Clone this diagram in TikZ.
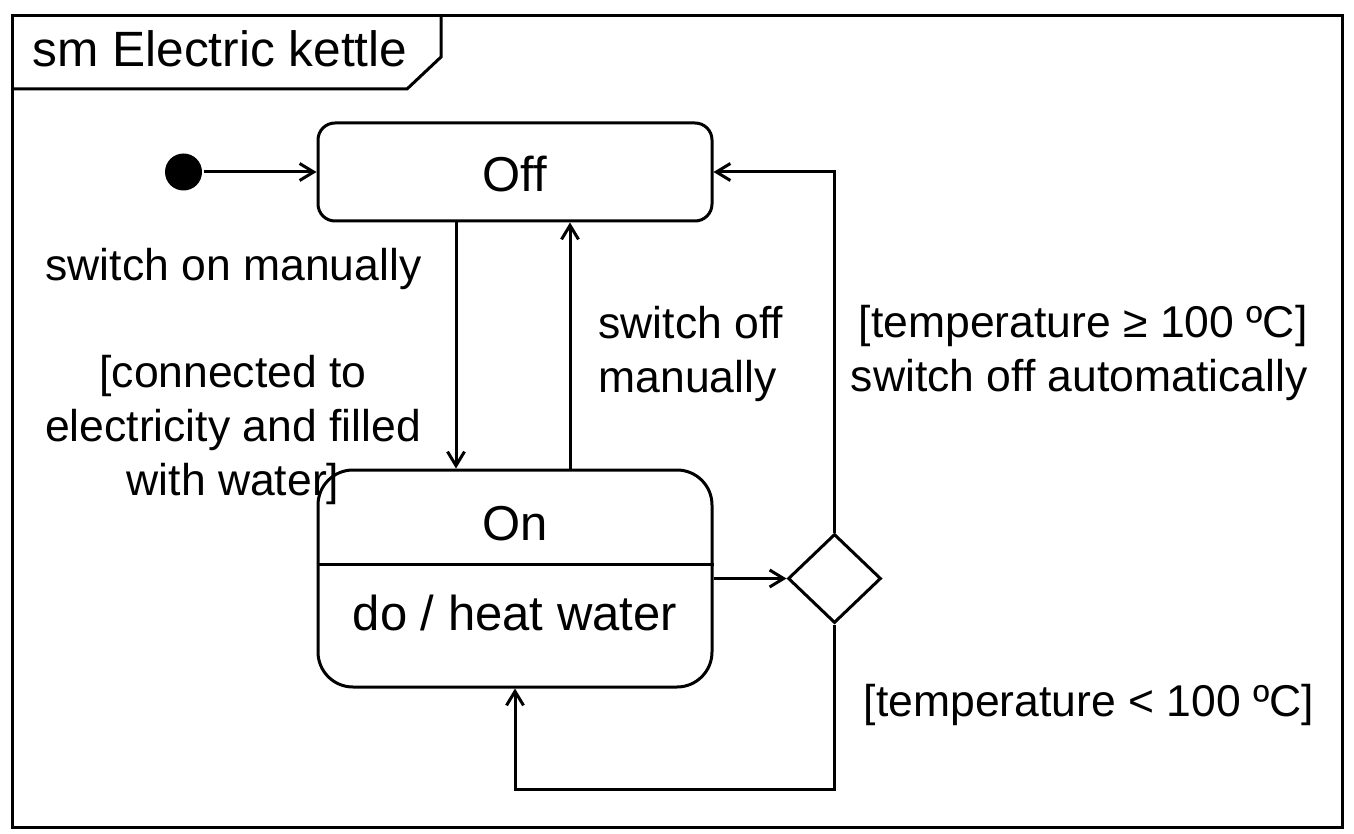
\documentclass[tikz,border=0pt]{standalone}
\usepackage{fontspec}
\setmainfont{Liberation Sans}
\usetikzlibrary{arrows.meta,shapes.geometric}
\begin{document}
\begin{tikzpicture}[x=0.5pt,y=-0.5pt,
  line width=1.5pt,
  arr/.style={-{Straight Barb[length=7pt,width=8.5pt]}},
  statebox/.style={draw,rectangle,inner sep=0pt,minimum width=197pt},
  lbl/.style={inner sep=0pt,font=\fontsize{22.25}{27}\selectfont},
  stxt/.style={inner sep=0pt,font=\fontsize{24.5}{29}\selectfont,anchor=base},
  decision/.style={draw,diamond,inner sep=0pt,aspect=1,minimum width=46.5pt,minimum height=44.5pt}]
\useasboundingbox (0,0) rectangle (1354,834);
% frame
\draw (12,16) rectangle (1342,827);
\draw (12,89) -- (407,89) -- (441,57) -- (441,16);
\node[inner sep=0pt,anchor=base west,font=\fontsize{24.8}{29}\selectfont] (title) at (31,67) {sm Electric kettle};
% nodes
\node[circle,fill,inner sep=0pt,minimum size=18.5pt] (init) at (183.5,172) {};
\node[statebox,minimum height=49pt,rounded corners=8.5pt] (off) at (515,172) {};
\node[stxt] (offtxt) at (515,192) {Off};
\node[statebox,minimum height=108.5pt,rounded corners=17.5pt] (on) at (515,578.5) {};
\draw (on.west |- 0,564.5) -- (on.east |- 0,564.5);
\node[stxt] (ontxt) at (515,540) {On};
\node[stxt] (dotxt) at (515,630) {do / heat water};
\node[decision] (dec) at (834.5,578.5) {};
% connectors
\draw[arr] (init) -- (off.west);
\draw[arr] (456,0 |- off.south) -- (456,0 |- on.north);
\draw[arr] (570,0 |- on.north) -- (570,0 |- off.south);
\draw[arr] (on.east) -- (dec.west);
\draw[arr] (dec.north) |- (off.east);
\draw[arr] (dec.south) -- (dec.south |- 0,789) -| (on.south);
% labels
\node[lbl,anchor=base] (l1) at (233.5,280) {switch on manually};
\node[lbl,anchor=base,align=center] (l2) at (233,495) {[connected to\\electricity and filled\\with water]};
\node[lbl,anchor=base west,align=left] (l3) at (597,392) {switch off\\manually};
\node[lbl,anchor=base east,align=right] (l4) at (1309,391) {[temperature ≥ 100 ºC]\\switch off automatically};
\node[lbl,anchor=base] (l5) at (1089,716) {[temperature < 100 ºC]};
\end{tikzpicture}
\end{document}
